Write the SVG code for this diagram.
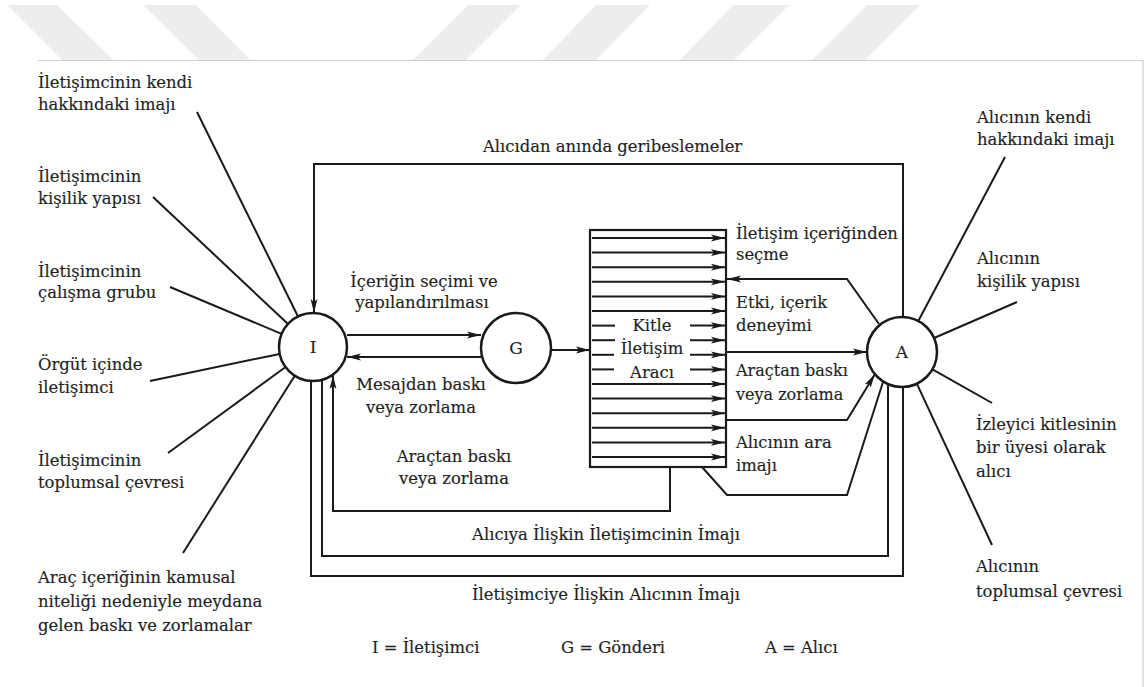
<svg xmlns="http://www.w3.org/2000/svg" width="1147" height="687" viewBox="0 0 1147 687">
<style>
text{font-family:"DejaVu Serif","Liberation Serif",serif;font-size:16.4px;fill:#1e1e1e;stroke:#1e1e1e;stroke-width:0.15}
.m{text-anchor:middle}
.ln{fill:none;stroke:#1a1a1a;stroke-width:2;stroke-linejoin:miter}
.ar{fill:none;stroke:#1a1a1a;stroke-width:2;marker-end:url(#ah)}
.nd{fill:#fff;stroke:#1a1a1a;stroke-width:2.5}
.wm{fill:#ededed}
</style>
<defs>
<marker id="ah" markerWidth="15" markerHeight="8" refX="14" refY="4" orient="auto" markerUnits="userSpaceOnUse">
<path d="M0,0.6 L14,4 L0,7.4 L3,4 Z" fill="#1a1a1a"/>
</marker>
</defs>
<rect width="1147" height="687" fill="#fff"/>
<g id="watermark">
<polygon class="wm" points="7,5 57,5 113,60 62,60"/>
<polygon class="wm" points="143,5 196,5 250,60 199,60"/>
<polygon class="wm" points="468,5 521,5 466,60 413,60"/>
<polygon class="wm" points="596,5 650,5 596,60 543,60"/>
<polygon class="wm" points="733,5 789,5 734,60 680,60"/>
<polygon class="wm" points="867,5 920,5 865,60 812,60"/>
<path d="M38,60.5 H1143 V687" fill="none" stroke="#cfcfcf" stroke-width="1.2"/>
</g>
<g id="connectors">
<line class="ln" x1="197" y1="112" x2="298" y2="316.5"/>
<line class="ln" x1="153" y1="197" x2="288" y2="324"/>
<line class="ln" x1="170" y1="287" x2="281.6" y2="333.8"/>
<line class="ln" x1="150" y1="381" x2="279.7" y2="353.9"/>
<line class="ln" x1="168" y1="453" x2="285.6" y2="367"/>
<line class="ln" x1="183" y1="553" x2="294.8" y2="375.8"/>
<line class="ln" x1="1005" y1="157" x2="918.3" y2="321"/>
<line class="ln" x1="1017" y1="302" x2="934.1" y2="338"/>
<line class="ln" x1="992" y1="403" x2="932.5" y2="369.3"/>
<line class="ln" x1="992" y1="545" x2="916.8" y2="383.7"/>
<polyline class="ar" points="903,317 903,164 314,164 314,313"/>
<line class="ar" x1="347" y1="335" x2="481" y2="335"/>
<line class="ar" x1="481" y1="357" x2="347" y2="357"/>
<line class="ar" x1="551" y1="350" x2="590" y2="350"/>
<polyline class="ar" points="879,324 847,279 727,279"/>
<line class="ar" x1="727" y1="352" x2="867" y2="352"/>
<polyline class="ar" points="727,420 847,420 875,374"/>
<polyline class="ln" points="702,467 727,495 847,495 883,382"/>
<polyline class="ar" points="670,467 670,511 333,511 333,375"/>
<polyline class="ln" points="888,384 888,556 322,556 322,380"/>
<polyline class="ln" points="903,387 903,576 311,576 311,381"/>
</g>
<g id="node-box">
<rect x="590" y="230" width="136" height="237" fill="#fff" stroke="#1a1a1a" stroke-width="2.2"/>
<g class="rows">
<line class="ar" x1="592" y1="238" x2="725" y2="238"/>
<line class="ar" x1="592" y1="252.6" x2="725" y2="252.6"/>
<line class="ar" x1="592" y1="267.2" x2="725" y2="267.2"/>
<line class="ar" x1="592" y1="281.8" x2="725" y2="281.8"/>
<line class="ar" x1="592" y1="296.4" x2="725" y2="296.4"/>
<line class="ar" x1="592" y1="311" x2="725" y2="311"/>
<line class="ln" x1="592" y1="325.6" x2="615" y2="325.6"/>
<line class="ar" x1="690" y1="325.6" x2="725" y2="325.6"/>
<line class="ln" x1="592" y1="340.2" x2="615" y2="340.2"/>
<line class="ar" x1="690" y1="340.2" x2="725" y2="340.2"/>
<line class="ln" x1="592" y1="354.8" x2="614" y2="354.8"/>
<line class="ar" x1="690" y1="354.8" x2="725" y2="354.8"/>
<line class="ln" x1="592" y1="369.4" x2="614" y2="369.4"/>
<line class="ar" x1="690" y1="369.4" x2="725" y2="369.4"/>
<line class="ar" x1="592" y1="384" x2="725" y2="384"/>
<line class="ar" x1="592" y1="398.6" x2="725" y2="398.6"/>
<line class="ar" x1="592" y1="413.2" x2="725" y2="413.2"/>
<line class="ar" x1="592" y1="427.8" x2="725" y2="427.8"/>
<line class="ar" x1="592" y1="442.4" x2="725" y2="442.4"/>
<line class="ar" x1="592" y1="457" x2="725" y2="457"/>
</g>
<text class="m" x="652" y="331">Kitle</text>
<text class="m" x="652" y="354">İletişim</text>
<text class="m" x="652" y="378">Aracı</text>
</g>
<g id="node-I">
<circle class="nd" cx="313" cy="347" r="34"/>
<text class="m" x="313" y="353" style="font-size:17px">I</text>
</g>
<g id="node-G">
<circle class="nd" cx="516" cy="348" r="35"/>
<text class="m" x="516" y="354" style="font-size:17px">G</text>
</g>
<g id="node-A">
<circle class="nd" cx="902" cy="352" r="35"/>
<text class="m" x="902" y="358" style="font-size:17px">A</text>
</g>
<g id="labels-left">
<text x="38" y="88">İletişimcinin kendi</text>
<text x="38" y="110">hakkındaki imajı</text>
<text x="38" y="182">İletişimcinin</text>
<text x="38" y="204">kişilik yapısı</text>
<text x="38" y="277">İletişimcinin</text>
<text x="38" y="298">çalışma grubu</text>
<text x="38" y="370">Örgüt içinde</text>
<text x="38" y="393">iletişimci</text>
<text x="38" y="466">İletişimcinin</text>
<text x="38" y="488">toplumsal çevresi</text>
<text x="38" y="583">Araç içeriğinin kamusal</text>
<text x="38" y="607">niteliği nedeniyle meydana</text>
<text x="38" y="631">gelen baskı ve zorlamalar</text>
</g>
<g id="labels-right">
<text x="977" y="123">Alıcının kendi</text>
<text x="977" y="145">hakkındaki imajı</text>
<text x="977" y="264">Alıcının</text>
<text x="977" y="287">kişilik yapısı</text>
<text x="976" y="430">İzleyici kitlesinin</text>
<text x="976" y="453">bir üyesi olarak</text>
<text x="976" y="477">alıcı</text>
<text x="976" y="572">Alıcının</text>
<text x="976" y="597">toplumsal çevresi</text>
</g>
<g id="labels-center">
<text x="483" y="152">Alıcıdan anında geribeslemeler</text>
<text class="m" x="424" y="287">İçeriğin seçimi ve</text>
<text class="m" x="422" y="308">yapılandırılması</text>
<text class="m" x="421" y="390">Mesajdan baskı</text>
<text class="m" x="421" y="413">veya zorlama</text>
<text class="m" x="454" y="462">Araçtan baskı</text>
<text class="m" x="454" y="484">veya zorlama</text>
<text x="736" y="239">İletişim içeriğinden</text>
<text x="736" y="260">seçme</text>
<text x="736" y="308">Etki, içerik</text>
<text x="736" y="331">deneyimi</text>
<text x="736" y="376" style="font-size:16px">Araçtan baskı</text>
<text x="736" y="400" style="font-size:16px">veya zorlama</text>
<text x="736" y="448">Alıcının ara</text>
<text x="736" y="471">imajı</text>
<text class="m" x="606" y="540">Alıcıya İlişkin İletişimcinin İmajı</text>
<text class="m" x="606" y="600">İletişimciye İlişkin Alıcının İmajı</text>
</g>
<g id="legend">
<text x="372" y="653">I = İletişimci</text>
<text x="561" y="653">G = Gönderi</text>
<text x="765" y="653">A = Alıcı</text>
</g>
</svg>
